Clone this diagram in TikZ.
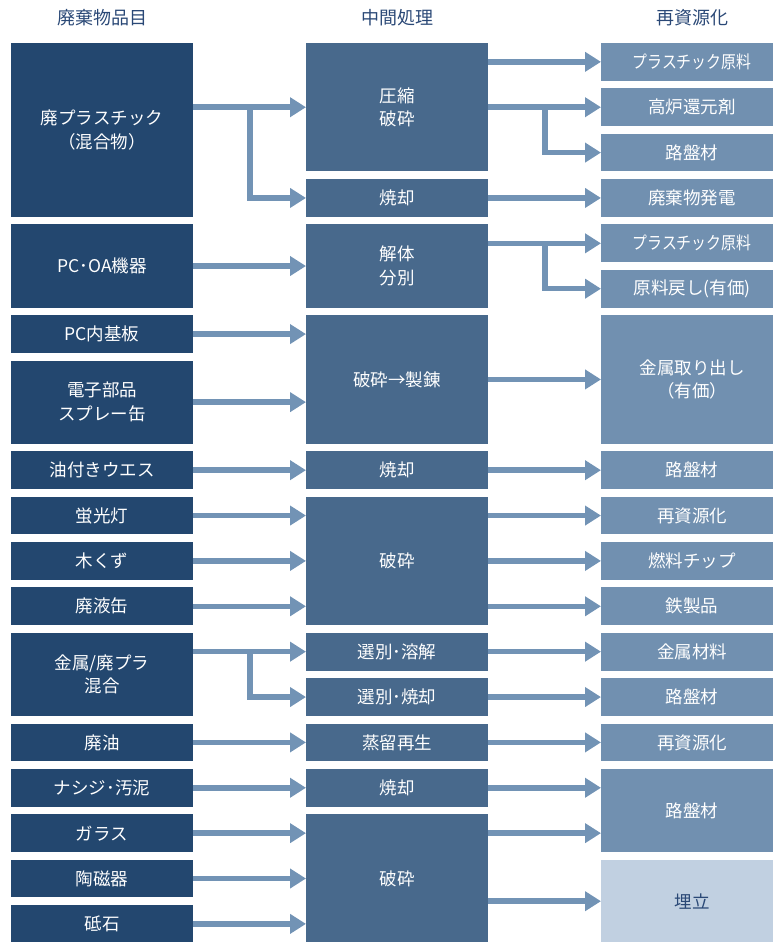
\documentclass[tikz,border=0pt]{standalone}
\usepackage{fontspec}
\setmainfont{Noto Sans CJK JP}
\usetikzlibrary{arrows.meta, positioning}
\definecolor{wastenavy}{RGB}{35, 71, 111}
\definecolor{procblue}{RGB}{72, 105, 140}
\definecolor{reuseblue}{RGB}{113, 144, 176}
\definecolor{landfillblue}{RGB}{193, 208, 225}
\definecolor{arrowblue}{RGB}{114, 147, 181}
\definecolor{headblue}{RGB}{42, 72, 118}

\begin{document}
\begin{tikzpicture}[
  x = 1pt, y = 1pt,
  node distance = 7.67pt,
  every node/.style = {font=\fontsize{17.5}{23.5}\selectfont, inner sep=0pt, outer sep=0pt},
  box/.style    = {rectangle, fill=#1, text=white, minimum width=182pt,
                   align=center},
  waste/.style  = {box=wastenavy, minimum height={37.7pt+45.37pt*(#1-1)}},
  waste/.default = 1,
  proc/.style   = {box=procblue, minimum height={37.7pt+45.37pt*(#1-1)}},
  proc/.default = 1,
  reuse/.style  = {box=reuseblue, minimum height={37.7pt+45.37pt*(#1-1)}},
  reuse/.default = 1,
  bury/.style   = {box=landfillblue, text=headblue, minimum height=83.07pt},
  head/.style   = {text=headblue, font=\fontsize{18}{22}\selectfont},
  arr/.style    = {-{Triangle[length=16pt, width=19pt]}, line width=5.5pt, arrowblue}
]
\useasboundingbox (0,0) rectangle (772,-942);

% waste items
\node[waste=4, anchor=north west] (plastic) at (11,-43) {廃プラスチック\\（混合物）};
\node[waste=2, below=of plastic]  (pcoa)      {PC･OA機器};
\node[waste, below=of pcoa]       (board)     {PC内基板};
\node[waste=2, below=of board]    (parts)     {電子部品\\スプレー缶};
\node[waste, below=of parts]      (rag)       {油付きウエス};
\node[waste, below=of rag]        (lamp)      {蛍光灯};
\node[waste, below=of lamp]       (wood)      {木くず};
\node[waste, below=of wood]       (can)       {廃液缶};
\node[waste=2, below=of can]      (mixed)     {金属/廃プラ\\混合};
\node[waste, below=of mixed]      (oil)       {廃油};
\node[waste, below=of oil]        (sludge)    {ナシジ･汚泥};
\node[waste, below=of sludge]     (glass)     {ガラス};
\node[waste, below=of glass]      (ceramic)   {陶磁器};
\node[waste, below=of ceramic]    (whetstone) {砥石};

% intermediate treatment
\node[proc=3, anchor=north west] (compress) at (306,-43) {圧縮\\破砕};
\node[proc, below=of compress]   (burnA)     {焼却};
\node[proc=2, below=of burnA]    (dismantle) {解体\\分別};
\node[proc=3, below=of dismantle] (smelt)    {破砕→製錬};
\node[proc, below=of smelt]      (burnB)     {焼却};
\node[proc=3, below=of burnB]    (crushA)    {破砕};
\node[proc, below=of crushA]     (melt)      {選別･溶解};
\node[proc, below=of melt]       (burnC)     {選別･焼却};
\node[proc, below=of burnC]      (distill)   {蒸留再生};
\node[proc, below=of distill]    (burnD)     {焼却};
\node[proc=3, below=of burnD]    (crushB)    {破砕};

% recycled products
\node[reuse, anchor=north west] (rawA) at (601,-43) {\scalebox{0.85}[1]{プラスチック原料}};
\node[reuse, below=of rawA]      (furnace)  {高炉還元剤};
\node[reuse, below=of furnace]   (roadA)    {路盤材};
\node[reuse, below=of roadA]     (power)    {廃棄物発電};
\node[reuse, below=of power]     (rawB)     {\scalebox{0.85}[1]{プラスチック原料}};
\node[reuse, below=of rawB]      (returned) {原料戻し(有価)};
\node[reuse=3, below=of returned] (metal)   {金属取り出し\\（有価）};
\node[reuse, below=of metal]     (roadB)    {路盤材};
\node[reuse, below=of roadB]     (recycleA) {再資源化};
\node[reuse, below=of recycleA]  (chip)     {燃料チップ};
\node[reuse, below=of chip]      (iron)     {鉄製品};
\node[reuse, below=of iron]      (metalmat) {金属材料};
\node[reuse, below=of metalmat]  (roadC)    {路盤材};
\node[reuse, below=of roadC]     (recycleB) {再資源化};
\node[reuse=2, below=of recycleB] (roadD)   {路盤材};
\node[bury, below=of roadD]      (landfill) {埋立};

% column heads
\node[head] (headwaste) at (plastic.north |- 0,-18)  {廃棄物品目};
\node[head] (headproc)  at (compress.north |- 0,-18) {中間処理};
\node[head] (headreuse) at (rawA.north |- 0,-18)     {再資源化};

% forks
\coordinate (forkA) at (compress.west -| 250,0);
\coordinate (forkB) at (melt.west -| 250,0);
\coordinate (forkC) at (furnace.west -| 545,0);
\coordinate (forkD) at (rawB.west -| 545,0);

% waste -> treatment
\draw[arr] (plastic.east |- compress) -- (compress.west);
\draw[arr] (forkA) |- (burnA.west);
\draw[arr] (pcoa.east)      -- (pcoa.east -| dismantle.west);
\draw[arr] (board.east)     -- (board.east -| smelt.west);
\draw[arr] (parts.east)     -- (parts.east -| smelt.west);
\draw[arr] (rag.east)       -- (rag.east -| burnB.west);
\draw[arr] (lamp.east)      -- (lamp.east -| crushA.west);
\draw[arr] (wood.east)      -- (wood.east -| crushA.west);
\draw[arr] (can.east)       -- (can.east -| crushA.west);
\draw[arr] (mixed.east |- melt) -- (melt.west);
\draw[arr] (forkB) |- (burnC.west);
\draw[arr] (oil.east)       -- (oil.east -| distill.west);
\draw[arr] (sludge.east)    -- (sludge.east -| burnD.west);
\draw[arr] (glass.east)     -- (glass.east -| crushB.west);
\draw[arr] (ceramic.east)   -- (ceramic.east -| crushB.west);
\draw[arr] (whetstone.east) -- (whetstone.east -| crushB.west);

% treatment -> products
\draw[arr] (compress.east |- rawA) -- (rawA.west);
\draw[arr] (compress.east |- furnace) -- (furnace.west);
\draw[arr] (forkC) |- (roadA.west);
\draw[arr] (burnA.east)     -- (burnA.east -| power.west);
\draw[arr] (dismantle.east |- rawB) -- (rawB.west);
\draw[arr] (forkD) |- (returned.west);
\draw[arr] (smelt.east)     -- (smelt.east -| metal.west);
\draw[arr] (burnB.east)     -- (burnB.east -| roadB.west);
\draw[arr] (crushA.east |- recycleA) -- (recycleA.west);
\draw[arr] (crushA.east |- chip) -- (chip.west);
\draw[arr] (crushA.east |- iron) -- (iron.west);
\draw[arr] (melt.east)      -- (melt.east -| metalmat.west);
\draw[arr] (burnC.east)     -- (burnC.east -| roadC.west);
\draw[arr] (distill.east)   -- (distill.east -| recycleB.west);
\draw[arr] (burnD.east)     -- (burnD.east -| roadD.west);
\draw[arr] (crushB.east |- glass) -- (glass -| roadD.west);
\draw[arr] (crushB.east |- landfill) -- (landfill.west);
\end{tikzpicture}
\end{document}
